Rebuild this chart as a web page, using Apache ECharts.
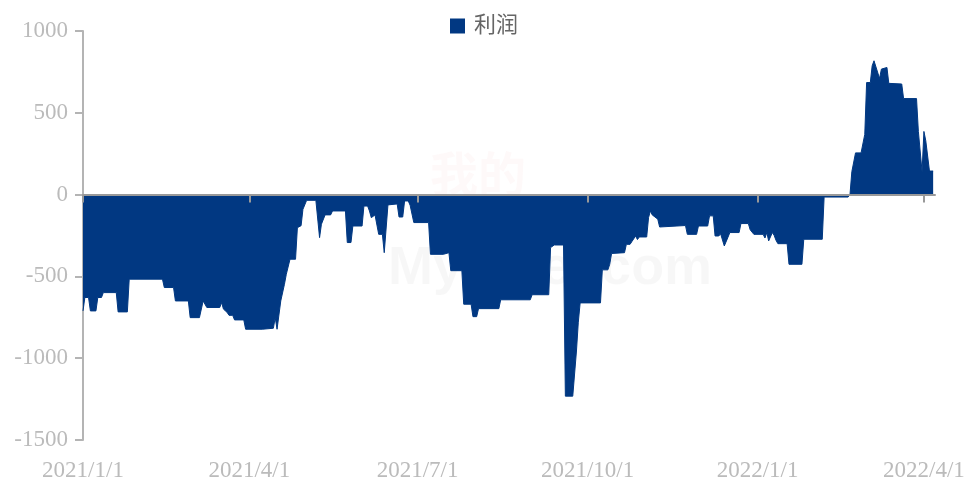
<!DOCTYPE html>
<html>
<head>
<meta charset="utf-8">
<title>利润</title>
<script src="https://cdn.jsdelivr.net/npm/echarts@6/dist/echarts.min.js"></script>
<style>
  html, body { margin: 0; padding: 0; background: #fff; }
  #chart { width: 968px; height: 482px; }
</style>
</head>
<body>
<div id="chart"></div>
<script>
// 日期（只记录走势发生变化的日子）
const dates = [
  '2021-01-01', '2021-01-02', '2021-01-04', '2021-01-05', '2021-01-08', '2021-01-09', '2021-01-11', '2021-01-12',
  '2021-01-19', '2021-01-20', '2021-01-25', '2021-01-26', '2021-02-13', '2021-02-14', '2021-02-19', '2021-02-20',
  '2021-02-27', '2021-02-28', '2021-03-05', '2021-03-07', '2021-03-08', '2021-03-09', '2021-03-16', '2021-03-17',
  '2021-03-18', '2021-03-20', '2021-03-21', '2021-03-23', '2021-03-24', '2021-03-29', '2021-03-30', '2021-04-08',
  '2021-04-09', '2021-04-14', '2021-04-15', '2021-04-16', '2021-04-18', '2021-04-20', '2021-04-21', '2021-04-22',
  '2021-04-23', '2021-04-26', '2021-04-27', '2021-04-29', '2021-04-30', '2021-05-02', '2021-05-07', '2021-05-09',
  '2021-05-10', '2021-05-11', '2021-05-12', '2021-05-15', '2021-05-16', '2021-05-23', '2021-05-24', '2021-05-26',
  '2021-05-27', '2021-06-01', '2021-06-02', '2021-06-04', '2021-06-05', '2021-06-06', '2021-06-07', '2021-06-08',
  '2021-06-09', '2021-06-10', '2021-06-12', '2021-06-13', '2021-06-14', '2021-06-15', '2021-06-16', '2021-06-20',
  '2021-06-21', '2021-06-23', '2021-06-24', '2021-06-26', '2021-06-27', '2021-06-29', '2021-07-07', '2021-07-08',
  '2021-07-15', '2021-07-16', '2021-07-18', '2021-07-19', '2021-07-25', '2021-07-26', '2021-07-30', '2021-07-31',
  '2021-08-02', '2021-08-03', '2021-08-14', '2021-08-15', '2021-08-31', '2021-09-01', '2021-09-10', '2021-09-11',
  '2021-09-13', '2021-09-18', '2021-09-19', '2021-09-23', '2021-09-25', '2021-09-26', '2021-09-27', '2021-10-08',
  '2021-10-09', '2021-10-12', '2021-10-13', '2021-10-14', '2021-10-21', '2021-10-22', '2021-10-24', '2021-10-25',
  '2021-10-26', '2021-10-27', '2021-10-28', '2021-10-29', '2021-11-02', '2021-11-03', '2021-11-04', '2021-11-05',
  '2021-11-06', '2021-11-08', '2021-11-09', '2021-11-10', '2021-11-23', '2021-11-24', '2021-11-29', '2021-11-30',
  '2021-12-05', '2021-12-06', '2021-12-08', '2021-12-09', '2021-12-11', '2021-12-12', '2021-12-14', '2021-12-16',
  '2021-12-17', '2021-12-22', '2021-12-23', '2021-12-27', '2021-12-28', '2021-12-30', '2022-01-04', '2022-01-05',
  '2022-01-06', '2022-01-07', '2022-01-09', '2022-01-10', '2022-01-11', '2022-01-12', '2022-01-17', '2022-01-18',
  '2022-01-25', '2022-01-26', '2022-02-05', '2022-02-06', '2022-02-19', '2022-02-20', '2022-02-21', '2022-02-23',
  '2022-02-26', '2022-02-28', '2022-03-01', '2022-03-03', '2022-03-04', '2022-03-05', '2022-03-06', '2022-03-08',
  '2022-03-09', '2022-03-10', '2022-03-12', '2022-03-13', '2022-03-20', '2022-03-21', '2022-03-28', '2022-03-29',
  '2022-03-30', '2022-03-31', '2022-04-01', '2022-04-02', '2022-04-04', '2022-04-06'
]
// 利润（元/吨）
const profit = [
  -711, -629, -629, -711, -711, -629, -629, -599,
  -599, -717, -717, -517, -517, -568, -568, -650,
  -650, -752, -752, -650, -650, -690, -690, -660,
  -700, -720, -738, -738, -766, -766, -823, -823,
  -817, -817, -752, -823, -650, -548, -487, -487,
  -395, -395, -202, -190, -90, -35, -35, -263,
  -181, -181, -124, -124, -100, -100, -293, -293,
  -192, -192, -70, -70, -100, -141, -141, -124,
  -124, -243, -243, -355, -355, -63, -57, -57,
  -137, -137, -39, -39, -65, -171, -171, -365,
  -365, -355, -355, -465, -465, -670, -670, -746,
  -746, -697, -697, -643, -643, -612, -612, -324,
  -308, -308, -1232, -1232, -956, -780, -662, -662,
  -460, -460, -426, -360, -355, -304, -304, -287,
  -287, -253, -275, -259, -259, -141, -100, -124,
  -124, -150, -198, -189, -189, -243, -243, -192,
  -192, -130, -130, -253, -253, -240, -314, -260,
  -232, -232, -177, -177, -215, -243, -243, -265,
  -232, -283, -232, -250, -280, -300, -300, -426,
  -426, -273, -273, -15, -15, 0, 140, 255,
  255, 368, 685, 685, 787, 818, 818, 710,
  767, 777, 777, 680, 676, 587, 587, 386,
  386, 140, 386, 330, 144, 144
]
// x轴刻度（季度）
const quarterTicks = ['2021-01-01', '2021-04-01', '2021-07-01', '2021-10-01', '2022-01-01', '2022-04-01']
const xMin = '2021-01-01'
const xMax = '2022-04-07'

const toTime = s => new Date(s).getTime() // UTC 零点
const fmtDate = v => {
  const d = new Date(v)
  return d.getUTCFullYear() + '/' + (d.getUTCMonth() + 1) + '/' + d.getUTCDate()
}

const tickTimes = quarterTicks.map(toTime)
const blue = '#013882'
const serif = 'Liberation Serif, Times New Roman, serif'

const chart = echarts.init(document.getElementById('chart'))

const option = {
  animation: false,
  backgroundColor: '#fff',
  legend: {
    top: 10,
    left: 'center',
    icon: 'rect',
    itemWidth: 15,
    itemHeight: 15,
    textStyle: {
      color: '#666',
      fontSize: 22,
      fontFamily: 'Liberation Serif, Noto Sans CJK SC',
      padding: [0, 0, 0, 4]
    },
    data: ['利润']
  },
  grid: { left: 83, right: 33, top: 31, bottom: 42 },
  xAxis: [
    {
      // 底部日期标签
      type: 'value',
      min: toTime(xMin),
      max: toTime(xMax),
      position: 'bottom',
      axisLine: { show: false, onZero: false },
      axisTick: { show: false },
      splitLine: { show: false },
      axisLabel: {
        customValues: tickTimes,
        formatter: fmtDate,
        color: '#bbb',
        fontSize: 23,
        fontFamily: serif,
        margin: 19,
        hideOverlap: false,
        showMinLabel: true,
        showMaxLabel: true
      }
    },
    {
      // 零轴线
      type: 'value',
      min: toTime(xMin),
      max: toTime(xMax),
      position: 'bottom',
      z: 10,
      axisLine: { show: true, onZero: true, lineStyle: { color: '#999', width: 2 } },
      axisTick: { show: true, customValues: tickTimes, length: 8, lineStyle: { color: '#999', width: 2 } },
      axisLabel: { show: false },
      splitLine: { show: false }
    }
  ],
  yAxis: {
    type: 'value',
    min: -1500,
    max: 1000,
    interval: 500,
    axisLine: { show: true, lineStyle: { color: '#b4b4b4', width: 2 } },
    axisTick: { show: true, length: 8, lineStyle: { color: '#b4b4b4', width: 2 } },
    splitLine: { show: false },
    axisLabel: {
      color: '#bbb',
      fontSize: 23,
      fontFamily: serif,
      margin: 15,
      formatter: v => String(v)
    }
  },
  graphic: [
    {
      type: 'text',
      left: 430,
      top: 150,
      z: -1,
      style: { text: '我的', fontSize: 48, fontWeight: 'bold', fontFamily: 'Noto Sans CJK SC', fill: 'rgba(230, 80, 80, 0.035)' }
    },
    {
      type: 'text',
      left: 388,
      top: 242,
      z: -1,
      style: { text: 'Mysteel.com', fontSize: 54, fontWeight: 'bold', fontFamily: 'Liberation Sans', fill: 'rgba(0, 0, 0, 0.03)' }
    }
  ],
  series: [
    {
      name: '利润',
      type: 'line',
      xAxisIndex: 0,
      showSymbol: false,
      symbol: 'none',
      itemStyle: { color: blue },
      lineStyle: { color: blue, width: 1 },
      areaStyle: { color: blue, opacity: 1 },
      data: dates.map((d, i) => [toTime(d), profit[i]])
    }
  ]
}

chart.setOption(option)
</script>
</body>
</html>
